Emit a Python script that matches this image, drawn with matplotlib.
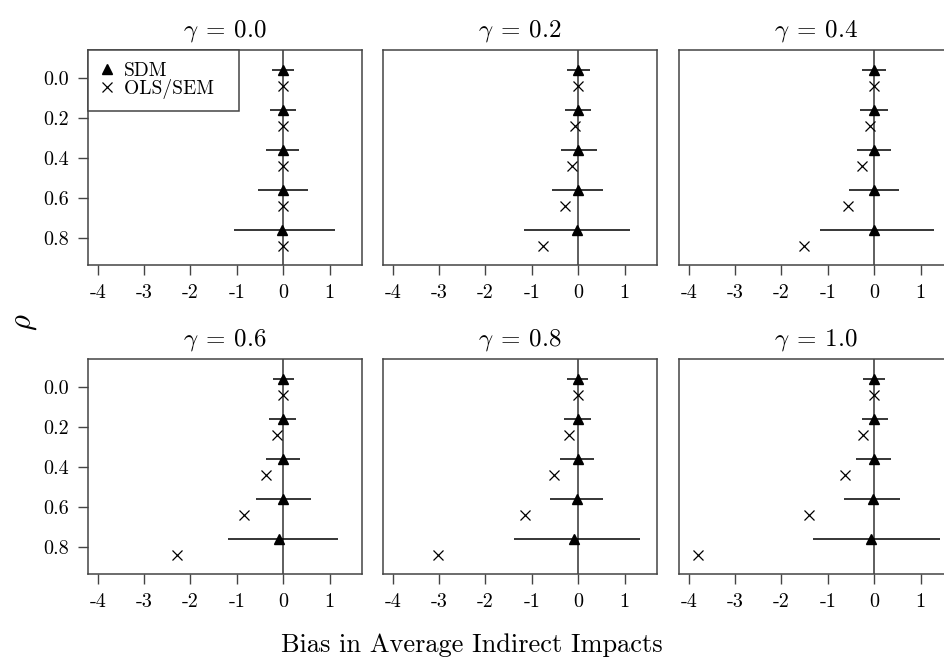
import matplotlib
matplotlib.use('Agg')
import matplotlib.pyplot as plt
from matplotlib.lines import Line2D

plt.rcParams['font.family'] = 'serif'
plt.rcParams['font.serif'] = ['cmr10', 'DejaVu Serif']
plt.rcParams['mathtext.fontset'] = 'cm'
plt.rcParams['axes.unicode_minus'] = False
plt.rcParams['axes.formatter.use_mathtext'] = True

# values
rho = [0.0, 0.2, 0.4, 0.6, 0.8]
gammas = [0.0, 0.2, 0.4, 0.6, 0.8, 1.0]

sdm_mean = [[0.0, 0.0, 0.0, 0.0, -0.03],
            [0.0, 0.0, 0.0, 0.0, -0.02],
            [0.0, 0.0, 0.0, 0.0, 0.0],
            [0.0, 0.0, -0.01, -0.01, -0.08],
            [0.0, -0.01, -0.01, -0.03, -0.08],
            [0.0, 0.0, -0.01, -0.03, -0.07]]
sdm_lo = [[-0.24, -0.29, -0.37, -0.54, -1.07],
          [-0.245, -0.28, -0.36, -0.57, -1.17],
          [-0.27, -0.31, -0.37, -0.54, -1.16],
          [-0.23, -0.31, -0.37, -0.58, -1.20],
          [-0.24, -0.30, -0.40, -0.60, -1.39],
          [-0.24, -0.27, -0.40, -0.65, -1.33]]
sdm_hi = [[0.24, 0.27, 0.35, 0.53, 1.11],
          [0.245, 0.28, 0.41, 0.54, 1.12],
          [0.25, 0.29, 0.36, 0.54, 1.29],
          [0.24, 0.28, 0.37, 0.60, 1.19],
          [0.22, 0.27, 0.35, 0.54, 1.34],
          [0.24, 0.30, 0.36, 0.56, 1.41]]
ols_mean = [[0.0, 0.0, 0.0, 0.0, 0.0],
            [0.0, -0.06, -0.14, -0.29, -0.76],
            [0.0, -0.10, -0.26, -0.57, -1.52],
            [0.0, -0.14, -0.38, -0.85, -2.28],
            [0.0, -0.19, -0.52, -1.14, -3.03],
            [0.0, -0.24, -0.64, -1.41, -3.79]]

W, H = 944, 659
OFF = 0.04
lefts = [88, 383, 679]
tops = [50, 359]
pw, ph = 274, 215

fig = plt.figure(figsize=(W / 100, H / 100), dpi=100)

for k, g in enumerate(gammas):
    r, c = divmod(k, 3)
    ax = fig.add_axes([lefts[c] / W, 1 - (tops[r] + ph) / H, pw / W, ph / H])
    ax.axvline(0, color='#333333', lw=1.1, zorder=1)
    y_s = [v - OFF for v in rho]
    y_o = [v + OFF for v in rho]
    ax.hlines(y_s, sdm_lo[k], sdm_hi[k], color='black', lw=1.1, zorder=2)
    ax.plot(sdm_mean[k], y_s, '^', color='black', ms=7.5, zorder=3)
    ax.plot(ols_mean[k], y_o, 'x', color='black', ms=6.5, mew=0.9, zorder=3)
    ax.set_xlim(-4.21, 1.70)
    ax.set_ylim(0.937, -0.14)
    ax.set_xticks([-4, -3, -2, -1, 0, 1])
    ax.set_xticklabels(['-4', '-3', '-2', '-1', '0', '1'])
    if c == 0:
        ax.set_yticks(rho)
        ax.set_yticklabels(['0.0', '0.2', '0.4', '0.6', '0.8'])
    else:
        ax.set_yticks([])
    ax.tick_params(length=7, width=1, color='#444444', labelsize=14.5, pad=7)
    for s in ax.spines.values():
        s.set_color('#444444')
        s.set_linewidth(1.1)
    ax.set_title(r'$\gamma\:=\:%.1f$' % g, fontsize=18, pad=10)
    if k == 0:
        handles = [Line2D([], [], marker='^', ls='none', color='black', ms=6.5),
                   Line2D([], [], marker='x', ls='none', color='black', ms=6.5, mew=0.9)]
        leg = ax.legend(handles, ['SDM', 'OLS/SEM  '], loc='upper left', borderaxespad=0,
                        fancybox=False, edgecolor='#444444', fontsize=14, handlelength=0.7,
                        handletextpad=0.55, labelspacing=-0.05, borderpad=0.62, framealpha=1)
        leg.get_frame().set_linewidth(1.1)

fig.text(25 / W, 1 - 322 / H, r'$\rho$', fontsize=22, rotation=90, ha='center', va='center')
fig.text(0.5, 1 - 645 / H, 'Bias in Average Indirect Impacts', fontsize=19,
         ha='center', va='center')

fig.savefig('out.png', dpi=100)
